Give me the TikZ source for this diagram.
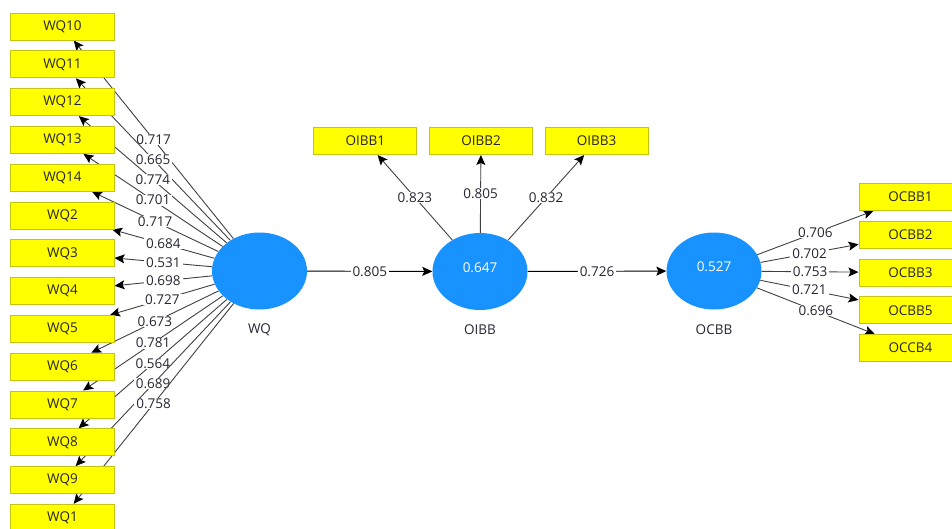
\documentclass[tikz,border=0pt]{standalone}
\usepackage{fontspec}
\setsansfont{Open Sans}
\usepackage{tikz}
\usetikzlibrary{shapes.geometric,arrows.meta,backgrounds}
\definecolor{itemfill}{RGB}{255,255,0}
\definecolor{itemedge}{RGB}{196,196,20}
\definecolor{latentfill}{RGB}{24,146,255}
\definecolor{linegray}{RGB}{64,64,64}
\definecolor{txt}{RGB}{40,36,50}

\begin{document}
\begin{tikzpicture}[
   x=1pt,y=-1pt,
   font=\sffamily\fontsize{13.5}{16}\selectfont,
   every matrix/.style={ampersand replacement=\&,column sep=11.7pt,row sep=9.8pt},
   item/.style={draw=itemedge,fill=itemfill,line width=1pt,minimum width=103pt,minimum height=27pt,inner sep=0pt,text=txt},
   latent/.style={ellipse,fill=latentfill,minimum width=95pt,minimum height=77pt,inner sep=0pt,text depth=8pt,text=white},
   lvname/.style={text=txt},
   ld/.style={-{Stealth[length=10pt,width=9pt,inset=2pt,color=black]},draw=linegray,line width=0.9pt},
   struct/.style={-{Stealth[length=10pt,width=9pt,inset=2pt]},draw=black,line width=0.9pt},
   coef/.style={fill=white,inner xsep=2pt,inner ysep=0.5pt,text=txt}]
\useasboundingbox (0,0) rectangle (952,528);
\matrix at (62.5,272.2) {
\node[item] (WQ10) {WQ10};\\
\node[item] (WQ11) {WQ11};\\
\node[item] (WQ12) {WQ12};\\
\node[item] (WQ13) {WQ13};\\
\node[item] (WQ14) {WQ14};\\
\node[item] (WQ2) {WQ2};\\
\node[item] (WQ3) {WQ3};\\
\node[item] (WQ4) {WQ4};\\
\node[item] (WQ5) {WQ5};\\
\node[item] (WQ6) {WQ6};\\
\node[item] (WQ7) {WQ7};\\
\node[item] (WQ8) {WQ8};\\
\node[item] (WQ9) {WQ9};\\
\node[item] (WQ1) {WQ1};\\
};
\matrix at (481,141) {
\node[item] (OIBB1) {OIBB1};\&\node[item] (OIBB2) {OIBB2};\&\node[item] (OIBB3) {OIBB3};\\
};
\matrix at (910.5,272.5) {
\node[item] (OCBB1) {OCBB1};\\
\node[item] (OCBB2) {OCBB2};\\
\node[item] (OCBB3) {OCBB3};\\
\node[item] (OCBB5) {OCBB5};\\
\node[item] (OCCB4) {OCCB4};\\
};
\node[latent] (WQ) at (259.5,271) {};
\node[latent] (OIBB) at (480,271.5) {0.647};
\node[latent] (OCBB) at (714,271) {0.527};
\node[lvname] (WQname) at (259.5,330) {WQ};
\node[lvname] (OIBBname) at (480,329.5) {OIBB};
\node[lvname] (OCBBname) at (714,329.5) {OCBB};
\begin{pgfonlayer}{background}
\draw[ld]  (WQ) -- node[coef] {0.717} (WQ10);
\draw[ld]  (WQ) -- node[coef] {0.665} (WQ11);
\draw[ld]  (WQ) -- node[coef] {0.774} (WQ12);
\draw[ld]  (WQ) -- node[coef] {0.701} (WQ13);
\draw[ld]  (WQ) -- node[coef] {0.717} (WQ14);
\draw[ld]  (WQ) -- node[coef] {0.684} (WQ2);
\draw[ld]  (WQ) -- node[coef] {0.531} (WQ3);
\draw[ld]  (WQ) -- node[coef] {0.698} (WQ4);
\draw[ld]  (WQ) -- node[coef] {0.727} (WQ5);
\draw[ld]  (WQ) -- node[coef] {0.673} (WQ6);
\draw[ld]  (WQ) -- node[coef] {0.781} (WQ7);
\draw[ld]  (WQ) -- node[coef] {0.564} (WQ8);
\draw[ld]  (WQ) -- node[coef] {0.689} (WQ9);
\draw[ld]  (WQ) -- node[coef] {0.758} (WQ1);
\draw[ld]  (OIBB) -- node[coef] {0.823} (OIBB1);
\draw[ld]  (OIBB) -- node[coef] {0.805} (OIBB2);
\draw[ld]  (OIBB) -- node[coef] {0.832} (OIBB3);
\draw[ld]  (OCBB) -- node[coef] {0.706} (OCBB1);
\draw[ld]  (OCBB) -- node[coef] {0.702} (OCBB2);
\draw[ld]  (OCBB) -- node[coef] {0.753} (OCBB3);
\draw[ld]  (OCBB) -- node[coef] {0.721} (OCBB5);
\draw[ld]  (OCBB) -- node[coef] {0.696} (OCCB4);
\draw[struct]  (WQ) -- node[coef] {0.805} (OIBB);
\draw[struct]  (OIBB) -- node[coef] {0.726} (OCBB);
\end{pgfonlayer}
\end{tikzpicture}
\end{document}
